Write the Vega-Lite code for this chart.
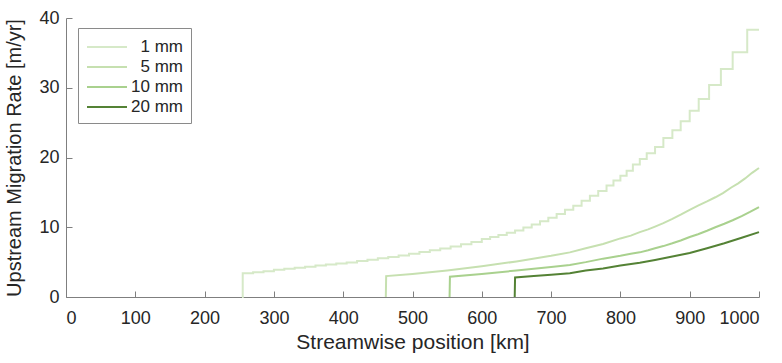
{
  "$schema": "https://vega.github.io/schema/vega-lite/v6.json",
  "width": 693,
  "height": 279,
  "autosize": {"type": "none"},
  "padding": {"left": 66, "top": 18, "right": 23, "bottom": 66},
  "background": "white",
  "config": {
    "view": {"stroke": null},
    "font": "Liberation Sans",
    "axis": {
      "domainColor": "#7f7f7f",
      "tickColor": "#7f7f7f",
      "labelColor": "#262626",
      "titleColor": "#262626",
      "labelFont": "Liberation Sans",
      "titleFont": "Liberation Sans",
      "labelFontSize": 18,
      "titleFontSize": 20,
      "titleFontWeight": "normal",
      "grid": false,
      "tickSize": -6
    }
  },
  "data": {
    "values": [
      {"size": "1 mm", "km": 254, "rate": 0},
      {"size": "1 mm", "km": 255, "rate": 3.4},
      {"size": "1 mm", "km": 270, "rate": 3.55},
      {"size": "1 mm", "km": 285, "rate": 3.7},
      {"size": "1 mm", "km": 300, "rate": 3.9},
      {"size": "1 mm", "km": 315, "rate": 4.05},
      {"size": "1 mm", "km": 330, "rate": 4.2},
      {"size": "1 mm", "km": 345, "rate": 4.35},
      {"size": "1 mm", "km": 360, "rate": 4.5},
      {"size": "1 mm", "km": 375, "rate": 4.65},
      {"size": "1 mm", "km": 390, "rate": 4.8},
      {"size": "1 mm", "km": 405, "rate": 4.95},
      {"size": "1 mm", "km": 420, "rate": 5.15},
      {"size": "1 mm", "km": 435, "rate": 5.35},
      {"size": "1 mm", "km": 450, "rate": 5.55},
      {"size": "1 mm", "km": 465, "rate": 5.75},
      {"size": "1 mm", "km": 480, "rate": 5.95},
      {"size": "1 mm", "km": 495, "rate": 6.2},
      {"size": "1 mm", "km": 510, "rate": 6.45},
      {"size": "1 mm", "km": 525, "rate": 6.7},
      {"size": "1 mm", "km": 540, "rate": 6.95},
      {"size": "1 mm", "km": 555, "rate": 7.25},
      {"size": "1 mm", "km": 570, "rate": 7.55},
      {"size": "1 mm", "km": 585, "rate": 7.9},
      {"size": "1 mm", "km": 600, "rate": 8.3},
      {"size": "1 mm", "km": 612, "rate": 8.6},
      {"size": "1 mm", "km": 624, "rate": 8.9},
      {"size": "1 mm", "km": 636, "rate": 9.2},
      {"size": "1 mm", "km": 648, "rate": 9.55},
      {"size": "1 mm", "km": 660, "rate": 9.95},
      {"size": "1 mm", "km": 672, "rate": 10.4},
      {"size": "1 mm", "km": 684, "rate": 10.85},
      {"size": "1 mm", "km": 696, "rate": 11.35},
      {"size": "1 mm", "km": 708, "rate": 11.9},
      {"size": "1 mm", "km": 720, "rate": 12.5},
      {"size": "1 mm", "km": 732, "rate": 13.1},
      {"size": "1 mm", "km": 744, "rate": 13.8},
      {"size": "1 mm", "km": 756, "rate": 14.5},
      {"size": "1 mm", "km": 768, "rate": 15.2},
      {"size": "1 mm", "km": 780, "rate": 16.0},
      {"size": "1 mm", "km": 790, "rate": 16.7},
      {"size": "1 mm", "km": 800, "rate": 17.4},
      {"size": "1 mm", "km": 809, "rate": 18.1},
      {"size": "1 mm", "km": 818, "rate": 19.0},
      {"size": "1 mm", "km": 828, "rate": 19.8},
      {"size": "1 mm", "km": 838, "rate": 20.6},
      {"size": "1 mm", "km": 850, "rate": 21.5},
      {"size": "1 mm", "km": 862, "rate": 22.8},
      {"size": "1 mm", "km": 875, "rate": 23.9},
      {"size": "1 mm", "km": 887, "rate": 25.2},
      {"size": "1 mm", "km": 900, "rate": 26.7},
      {"size": "1 mm", "km": 913, "rate": 28.4},
      {"size": "1 mm", "km": 928, "rate": 30.4},
      {"size": "1 mm", "km": 945, "rate": 32.7},
      {"size": "1 mm", "km": 962, "rate": 35.1},
      {"size": "1 mm", "km": 983, "rate": 38.3},
      {"size": "1 mm", "km": 1000, "rate": 38.3},

      {"size": "5 mm", "km": 461.5, "rate": 0},
      {"size": "5 mm", "km": 462, "rate": 3.0},
      {"size": "5 mm", "km": 500, "rate": 3.3},
      {"size": "5 mm", "km": 550, "rate": 3.8},
      {"size": "5 mm", "km": 600, "rate": 4.4},
      {"size": "5 mm", "km": 650, "rate": 5.1},
      {"size": "5 mm", "km": 700, "rate": 5.9},
      {"size": "5 mm", "km": 727, "rate": 6.4},
      {"size": "5 mm", "km": 750, "rate": 7.0},
      {"size": "5 mm", "km": 775, "rate": 7.6},
      {"size": "5 mm", "km": 800, "rate": 8.4},
      {"size": "5 mm", "km": 815, "rate": 8.8},
      {"size": "5 mm", "km": 828, "rate": 9.3},
      {"size": "5 mm", "km": 840, "rate": 9.7},
      {"size": "5 mm", "km": 850, "rate": 10.1},
      {"size": "5 mm", "km": 862, "rate": 10.6},
      {"size": "5 mm", "km": 875, "rate": 11.2},
      {"size": "5 mm", "km": 887, "rate": 11.8},
      {"size": "5 mm", "km": 900, "rate": 12.5},
      {"size": "5 mm", "km": 912, "rate": 13.1},
      {"size": "5 mm", "km": 925, "rate": 13.7},
      {"size": "5 mm", "km": 937, "rate": 14.3},
      {"size": "5 mm", "km": 948, "rate": 14.9},
      {"size": "5 mm", "km": 960, "rate": 15.7},
      {"size": "5 mm", "km": 970, "rate": 16.3},
      {"size": "5 mm", "km": 980, "rate": 17.0},
      {"size": "5 mm", "km": 990, "rate": 17.8},
      {"size": "5 mm", "km": 1000, "rate": 18.5},

      {"size": "10 mm", "km": 553.5, "rate": 0},
      {"size": "10 mm", "km": 554, "rate": 2.9},
      {"size": "10 mm", "km": 600, "rate": 3.3},
      {"size": "10 mm", "km": 650, "rate": 3.8},
      {"size": "10 mm", "km": 700, "rate": 4.3},
      {"size": "10 mm", "km": 727, "rate": 4.6},
      {"size": "10 mm", "km": 750, "rate": 5.0},
      {"size": "10 mm", "km": 775, "rate": 5.5},
      {"size": "10 mm", "km": 800, "rate": 5.9},
      {"size": "10 mm", "km": 815, "rate": 6.2},
      {"size": "10 mm", "km": 828, "rate": 6.4},
      {"size": "10 mm", "km": 840, "rate": 6.7},
      {"size": "10 mm", "km": 850, "rate": 7.0},
      {"size": "10 mm", "km": 862, "rate": 7.3},
      {"size": "10 mm", "km": 875, "rate": 7.7},
      {"size": "10 mm", "km": 887, "rate": 8.1},
      {"size": "10 mm", "km": 900, "rate": 8.6},
      {"size": "10 mm", "km": 912, "rate": 9.0},
      {"size": "10 mm", "km": 925, "rate": 9.5},
      {"size": "10 mm", "km": 937, "rate": 10.0},
      {"size": "10 mm", "km": 950, "rate": 10.5},
      {"size": "10 mm", "km": 962, "rate": 11.0},
      {"size": "10 mm", "km": 975, "rate": 11.6},
      {"size": "10 mm", "km": 987, "rate": 12.2},
      {"size": "10 mm", "km": 1000, "rate": 12.9},

      {"size": "20 mm", "km": 647.5, "rate": 0},
      {"size": "20 mm", "km": 648, "rate": 2.8},
      {"size": "20 mm", "km": 675, "rate": 3.0},
      {"size": "20 mm", "km": 700, "rate": 3.2},
      {"size": "20 mm", "km": 727, "rate": 3.4},
      {"size": "20 mm", "km": 750, "rate": 3.8},
      {"size": "20 mm", "km": 775, "rate": 4.1},
      {"size": "20 mm", "km": 800, "rate": 4.5},
      {"size": "20 mm", "km": 828, "rate": 4.9},
      {"size": "20 mm", "km": 850, "rate": 5.3},
      {"size": "20 mm", "km": 875, "rate": 5.8},
      {"size": "20 mm", "km": 900, "rate": 6.3},
      {"size": "20 mm", "km": 925, "rate": 7.0},
      {"size": "20 mm", "km": 950, "rate": 7.7},
      {"size": "20 mm", "km": 975, "rate": 8.5},
      {"size": "20 mm", "km": 1000, "rate": 9.3}
    ]
  },
  "encoding": {
    "x": {
      "field": "km",
      "type": "quantitative",
      "scale": {"domain": [0, 1000], "nice": false},
      "axis": {"values": [0, 100, 200, 300, 400, 500, 600, 700, 800, 900, 1000], "format": "d", "title": "Streamwise position [km]", "titleFontSize": 21, "labelPadding": 18, "titlePadding": 4}
    },
    "y": {
      "field": "rate",
      "type": "quantitative",
      "scale": {"domain": [0, 40], "nice": false},
      "axis": {"values": [0, 10, 20, 30, 40], "title": "Upstream Migration Rate [m/yr]", "labelPadding": 13, "titlePadding": 14}
    },
    "color": {
      "field": "size",
      "type": "nominal",
      "scale": {
        "domain": ["1 mm", "5 mm", "10 mm", "20 mm"],
        "range": ["#d6e9c8", "#c6e0b0", "#a9d18e", "#548235"]
      },
      "legend": {
        "title": null,
        "orient": "none",
        "legendX": 12,
        "legendY": 10,
        "symbolType": "M-1,0H3",
        "symbolSize": 400,
        "symbolStrokeWidth": 2,
        "labelFont": "Liberation Sans",
        "labelFontSize": 17,
        "labelColor": "#262626",
        "labelAlign": "right",
        "labelOffset": 75,
        "rowPadding": 1,
        "padding": 8,
        "strokeColor": "#8a8a8a",
        "fillColor": "white"
      }
    }
  },
  "layer": [
    {
      "transform": [{"filter": "datum.size === '1 mm'"}],
      "mark": {"type": "line", "interpolate": "step-after", "strokeWidth": 2}
    },
    {
      "transform": [{"filter": "datum.size !== '1 mm'"}],
      "mark": {"type": "line", "interpolate": "linear", "strokeWidth": 2}
    }
  ]
}
